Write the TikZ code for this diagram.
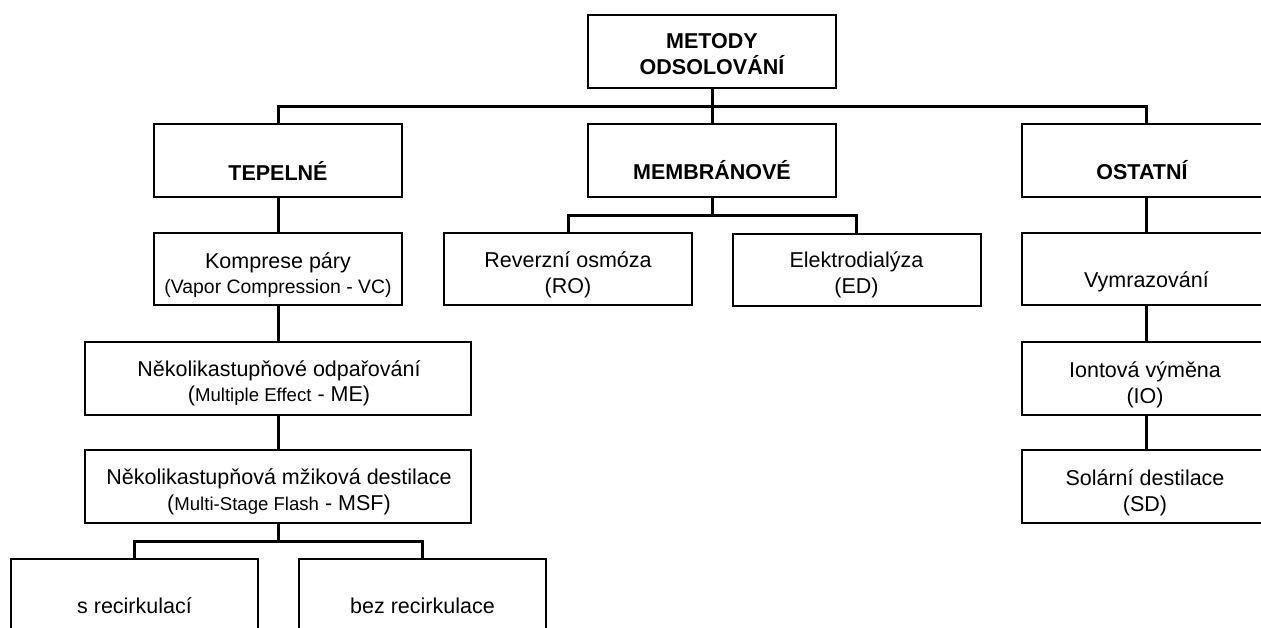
\documentclass[tikz,border=0pt]{standalone}
\usepackage{fontspec}
\setmainfont{Liberation Sans}
\newcommand{\nrm}{\fontsize{21.5}{25.5}\selectfont}
\newcommand{\sml}{\fontsize{18.6}{25.5}\selectfont}
\tikzset{
  box/.style={draw, line width=2pt, rectangle, inner sep=0pt, minimum width=248pt, minimum height=73pt},
  wbox/.style={box, minimum width=386pt},
  txt/.style={inner sep=0pt, align=center, font=\nrm},
  conn/.style={line width=3pt},
}
\begin{document}
\begin{tikzpicture}[x=1pt,y=-1pt]
\useasboundingbox (0,0) rectangle (1261,627);
\clip (0,0) rectangle (1261,627);
\fill[white] (0,0) rectangle (1261,627);
% boxes
\node[box] (top) at (712,51.5) {};
\node[box] (tep) at (278,160.5) {};
\node[box] (mem) at (712,160.5) {};
\node[box] (ost) at (1146,160.5) {};
\node[box, minimum height=72pt] (kom) at (278,269) {};
\node[box, minimum height=72pt] (ro) at (568,269) {};
\node[box, minimum height=72pt] (ed) at (856.5,269.5) {};
\node[box, minimum height=72pt] (vym) at (1146,269) {};
\node[wbox] (me) at (278,378.5) {};
\node[wbox] (msf) at (278,486.5) {};
\node[box] (io) at (1146,378.5) {};
\node[box] (sd) at (1146,486.5) {};
\node[box, minimum width=247pt, minimum height=100pt] (sr) at (134.5,609) {};
\node[box, minimum width=247pt, minimum height=100pt] (bez) at (422.5,609) {};
% texts
\node[txt] (topT) at (712,54) {\bfseries METODY\\\bfseries ODSOLOVÁNÍ};
\node[txt] (tepT) at (278,170.5) {\bfseries TEPELNÉ};
\node[txt] (memT) at (712,170.5) {\bfseries MEMBRÁNOVÉ};
\node[txt] (ostT) at (1142,170.5) {\bfseries OSTATNÍ};
\node[txt] (komT) at (278,275) {Komprese páry\\{\fontsize{19.4}{25.5}\selectfont(Vapor Compression - VC)}};
\node[txt] (roT) at (568,275) {Reverzní osmóza\\(RO)};
\node[txt] (edT) at (856.5,275) {Elektrodialýza\\(ED)};
\node[txt] (vymT) at (1146.5,282) {Vymrazování};
\node[txt] (meT) at (279,383.5) {Několikastupňové odpařování\\({\sml Multiple Effect} - ME)};
\node[txt] (msfT) at (279,492) {Několikastupňová mžiková destilace\\({\sml Multi-Stage Flash} - MSF)};
\node[txt] (ioT) at (1145,385) {Iontová výměna\\(IO)};
\node[txt] (sdT) at (1145,493) {Solární destilace\\(SD)};
\node[txt] (srT) at (134.5,606) {s recirkulací};
\node[txt] (bezT) at (422.5,606) {bez recirkulace};
% buses
\coordinate (b1) at (712,106);
\coordinate (b2) at (712,215);
\coordinate (b3) at (278,541);
% connectors
\draw[conn] (top.south) -- (mem.north);
\draw[conn] (tep.north) |- (b1) -| (ost.north);
\draw[conn] (mem.south) -- (b2);
\draw[conn] (ro.north) |- (b2) -| (ed.north);
\draw[conn] (tep.south) -- (kom.north);
\draw[conn] (kom.south) -- (me.north);
\draw[conn] (me.south) -- (msf.north);
\draw[conn] (msf.south) -- (b3);
\draw[conn] (sr.north) |- (b3) -| (bez.north);
\draw[conn] (ost.south) -- (vym.north);
\draw[conn] (vym.south) -- (io.north);
\draw[conn] (io.south) -- (sd.north);
\end{tikzpicture}
\end{document}
